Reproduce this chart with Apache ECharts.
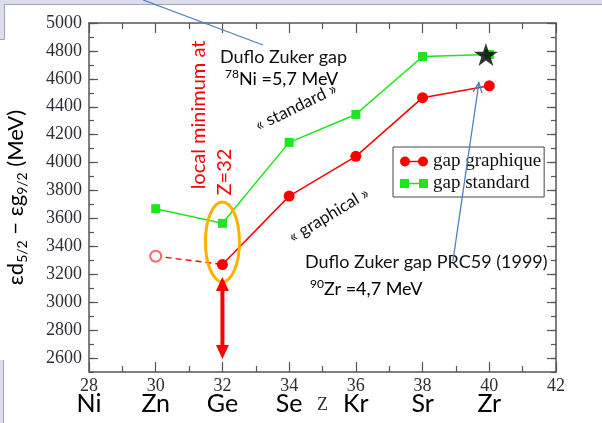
<!DOCTYPE html>
<html>
<head>
<meta charset="utf-8">
<script src="https://cdn.jsdelivr.net/npm/echarts@6/dist/echarts.min.js"></script>
<style>
  html, body { margin: 0; padding: 0; background: #fff; }
  #chart { width: 602px; height: 423px; }
</style>
</head>
<body>
<div id="chart"></div>
<script>
// Proton number Z of the isotones and the d5/2 - g9/2 gap (keV)
const protonNumbers = [30, 32, 34, 36, 38, 40];
const gapStandard   = [3670, 3565, 4145, 4345, 4760, 4775];
const gapGraphique  = [3330, 3270, 3760, 4045, 4465, 4550]; // Z=30 value is extrapolated
const dufloZukerZr  = [39.9, 4775];

// Axis ticks and element symbols under the Z axis
const xTickValues  = [28, 30, 32, 34, 36, 38, 40, 42];
const elementNames = ['Ni', 'Zn', 'Ge', 'Se', 'Kr', 'Sr', 'Zr', ''];
const yTickValues  = [2600, 2800, 3000, 3200, 3400, 3600, 3800, 4000, 4200, 4400, 4600, 4800, 5000];

const SERIF = 'Liberation Serif';
const SANS = 'Lato';
const AXIS_COLOR = '#555';
const LABEL_COLOR = '#2e2e38';
const RED = '#ff0000';
const GREEN = '#1ee61e';
const BLUE = '#4f81bd';

const STAR = 'path://M50,0 L61.2,34.5 L97.6,34.5 L68.2,55.9 L79.4,90.5 L50,69.1 L20.6,90.5 L31.8,55.9 L2.4,34.5 L38.8,34.5 Z';
const ICON_RED = 'path://M5,0A5,5 0 1 1 5,10A5,5 0 1 1 5,0Z M23,0A5,5 0 1 1 23,10A5,5 0 1 1 23,0Z M5,4.2H23V5.8H5Z';
const ICON_GREEN = 'path://M0,0.5H9V9.5H0Z M19,0.5H28V9.5H19Z M9,4.2H19V5.8H9Z';

const chart = echarts.init(document.getElementById('chart'), null, { renderer: 'canvas' });

function xAxisBase(position, showLabel) {
  return {
    type: 'value', position: position, min: 28, max: 42, interval: 2,
    axisLine: { show: true, onZero: false, lineStyle: { color: AXIS_COLOR, width: 1.5 } },
    axisTick: { show: true, inside: true, length: 10, lineStyle: { color: AXIS_COLOR, width: 1.2 } },
    minorTick: { show: true, splitNumber: 2, length: 6, lineStyle: { color: AXIS_COLOR, width: 1.2 } },
    splitLine: { show: false },
    minorSplitLine: { show: false },
    axisLabel: showLabel ? {
      showMinLabel: true, showMaxLabel: true, margin: 6,
      fontFamily: SERIF, fontSize: 18, color: LABEL_COLOR,
      formatter: function (v) {
        const i = xTickValues.indexOf(v);
        const el = i >= 0 ? elementNames[i] : '';
        return '{n|' + v + '}\n{e|' + (el || ' ') + '}';
      },
      rich: {
        n: { fontFamily: SERIF, fontSize: 18, color: LABEL_COLOR, lineHeight: 17 },
        e: { fontFamily: SANS, fontSize: 25, color: '#000', lineHeight: 17 }
      }
    } : { show: false }
  };
}

function yAxisMinor(position) {
  return {
    type: 'value', position: position, min: 2500, max: 5000, interval: 100,
    axisLine: { show: true, onZero: false, lineStyle: { color: AXIS_COLOR, width: 1.5 } },
    axisTick: { show: true, inside: true, length: 5, lineStyle: { color: AXIS_COLOR, width: 1.2 } },
    axisLabel: { show: false },
    splitLine: { show: false }
  };
}

function yAxisMajor(position, showLabel) {
  return {
    type: 'value', position: position, min: 2500, max: 5000, interval: 100,
    axisLine: { show: false },
    axisTick: { show: true, inside: true, length: 9, customValues: yTickValues, lineStyle: { color: AXIS_COLOR, width: 1.2 } },
    axisLabel: showLabel ? {
      customValues: yTickValues, margin: 7,
      fontFamily: SERIF, fontSize: 18, color: LABEL_COLOR,
      formatter: function (v) { return String(v); }
    } : { show: false },
    splitLine: { show: false },
    name: showLabel ? '{t|εd}{s|5/2}{t| − εg}{s|9/2}{t| (MeV)}' : '',
    nameLocation: 'middle', nameRotate: 90, nameGap: 60, nameMoveOverlap: false,
    nameTextStyle: {
      fontFamily: SANS,
      rich: {
        t: { fontFamily: SANS, fontSize: 22, color: '#000', lineHeight: 26, verticalAlign: 'middle' },
        s: { fontFamily: SANS, fontSize: 14, color: '#000', lineHeight: 13, verticalAlign: 'bottom' }
      }
    }
  };
}

const option = {
  animation: false,
  backgroundColor: '#fff',
  grid: { left: 89, right: 46, top: 23, bottom: 51, containLabel: false, outerBoundsMode: 'none' },
  xAxis: [
    Object.assign(xAxisBase('bottom', true), {
      name: 'Z', nameLocation: 'middle', nameGap: 24, nameMoveOverlap: false,
      nameTextStyle: { fontFamily: SERIF, fontSize: 18, color: LABEL_COLOR }
    }),
    xAxisBase('top', false)
  ],
  yAxis: [
    yAxisMinor('left'),
    yAxisMajor('left', true),
    yAxisMinor('right'),
    yAxisMajor('right', false)
  ],
  legend: {
    orient: 'vertical', left: 393, top: 147,
    padding: [5, 3, 4, 7], itemGap: 3,
    itemWidth: 28, itemHeight: 10,
    borderColor: '#444', borderWidth: 1, backgroundColor: '#fff',
    textStyle: { fontFamily: SERIF, fontSize: 19, color: '#111' },
    data: [
      { name: 'gap graphique', icon: ICON_RED },
      { name: 'gap standard', icon: ICON_GREEN }
    ]
  },
  series: [
    {
      name: 'gap standard', type: 'line',
      data: protonNumbers.map((z, i) => [z, gapStandard[i]]),
      symbol: 'rect', symbolSize: 9,
      itemStyle: { color: GREEN },
      lineStyle: { color: GREEN, width: 1.5 },
      z: 3
    },
    {
      name: 'gap graphique', type: 'line',
      data: protonNumbers.slice(1).map((z, i) => [z, gapGraphique[i + 1]]),
      symbol: 'circle', symbolSize: 11,
      itemStyle: { color: RED },
      lineStyle: { color: RED, width: 1.5 },
      z: 4
    },
    {
      name: 'extrapolated', type: 'line',
      data: [
        { value: [protonNumbers[0], gapGraphique[0]], symbol: 'emptyCircle', symbolSize: 11 },
        { value: [protonNumbers[1], gapGraphique[1]], symbol: 'none' }
      ],
      itemStyle: { color: '#ff6b6b', borderWidth: 1 },
      lineStyle: { color: RED, width: 1.5, type: [6, 4] },
      z: 2
    },
    {
      name: 'Duflo Zuker', type: 'scatter',
      data: [dufloZukerZr],
      symbol: STAR, symbolSize: [24, 23],
      itemStyle: { color: '#000' },
      z: 6
    }
  ]
};

chart.setOption(option);

// Annotations anchored to data positions
const px = (x, y) => chart.convertToPixel({ xAxisIndex: 0, yAxisIndex: 0 }, [x, y]);

const ellipseC = px(32, 3432);
const ellipseTop = px(32, 3718);
const arrowTop = px(32, 3180);
const arrowBottom = px(32, 2594);
const blueTip = px(39.69, 4573);
const blueTail = px(38.91, 3294);

const head = 14, halfW = 6.5;
function arrowHeadPoints(tip, dir) {
  // dir: +1 points up, -1 points down
  return [
    [tip[0], tip[1]],
    [tip[0] - halfW, tip[1] + dir * head],
    [tip[0] + halfW, tip[1] + dir * head]
  ];
}

const ang = Math.atan2(blueTip[1] - blueTail[1], blueTip[0] - blueTail[0]);
const bl = 11, spread = 0.42;
const barb1 = [blueTip[0] - bl * Math.cos(ang - spread), blueTip[1] - bl * Math.sin(ang - spread)];
const barb2 = [blueTip[0] - bl * Math.cos(ang + spread), blueTip[1] - bl * Math.sin(ang + spread)];

const supRich = {
  m: { fontFamily: SANS, fontSize: 18, color: '#111', lineHeight: 22 },
  sup: { fontFamily: SANS, fontSize: 12, color: '#111', lineHeight: 12, verticalAlign: 'top' }
};

chart.setOption({
  graphic: [
    // slide frame strips
    { type: 'rect', shape: { x: 0, y: 0, width: 602, height: 4 }, style: { fill: '#dcdeee' }, silent: true },
    { type: 'line', shape: { x1: 0, y1: 4.5, x2: 602, y2: 4.5 }, style: { stroke: '#a4a4b0', lineWidth: 1 }, silent: true },
    { type: 'rect', shape: { x: 0, y: 0, width: 4, height: 39 }, style: { fill: '#dcdeee' }, silent: true },
    { type: 'polyline', shape: { points: [[4.5, 4.5], [4.5, 39.5], [0, 39.5]] }, style: { stroke: '#a4a4b0', lineWidth: 1, fill: null }, silent: true },
    { type: 'rect', shape: { x: 0, y: 360, width: 3, height: 63 }, style: { fill: '#dcdeee' }, silent: true },
    { type: 'line', shape: { x1: 3.5, y1: 360, x2: 3.5, y2: 423 }, style: { stroke: '#a4a4b0', lineWidth: 1 }, silent: true },

    // local minimum highlight
    { type: 'ellipse', shape: { cx: ellipseC[0], cy: ellipseC[1], rx: 17, ry: ellipseC[1] - ellipseTop[1] },
      style: { stroke: '#ffb000', lineWidth: 3, fill: null }, z: 10 },
    { type: 'line', shape: { x1: arrowTop[0], y1: arrowTop[1] + head - 1, x2: arrowBottom[0], y2: arrowBottom[1] - head + 1 },
      style: { stroke: RED, lineWidth: 4 }, z: 10 },
    { type: 'polygon', shape: { points: arrowHeadPoints(arrowTop, 1) }, style: { fill: RED }, z: 10 },
    { type: 'polygon', shape: { points: arrowHeadPoints(arrowBottom, -1) }, style: { fill: RED }, z: 10 },

    { type: 'text', x: 199, y: 115, rotation: Math.PI / 2,
      style: { text: 'local minimum at', fontFamily: SANS, fontSize: 20, fill: RED, align: 'center', verticalAlign: 'middle' }, z: 10 },
    { type: 'text', x: 225, y: 172, rotation: Math.PI / 2,
      style: { text: 'Z=32', fontFamily: SANS, fontSize: 20, fill: RED, align: 'center', verticalAlign: 'middle' }, z: 10 },

    // Duflo-Zuker callouts
    { type: 'line', shape: { x1: 143, y1: 0, x2: 263, y2: 45 }, style: { stroke: BLUE, lineWidth: 1.3 }, z: 10 },
    { type: 'text', x: 220, y: 57,
      style: { text: 'Duflo Zuker gap', fontFamily: SANS, fontSize: 18, fill: '#111', align: 'left', verticalAlign: 'middle' }, z: 10 },
    { type: 'text', x: 225, y: 79,
      style: { text: '{sup|78}{m|Ni =5,7 MeV}', rich: supRich, align: 'left', verticalAlign: 'middle' }, z: 10 },

    { type: 'line', shape: { x1: blueTail[0], y1: blueTail[1], x2: blueTip[0], y2: blueTip[1] }, style: { stroke: BLUE, lineWidth: 1.3 }, z: 20 },
    { type: 'polyline', shape: { points: [barb1, blueTip, barb2] }, style: { stroke: BLUE, lineWidth: 1.3, fill: null }, z: 20 },
    { type: 'text', x: 305, y: 262,
      style: { text: 'Duflo Zuker gap PRC59 (1999)', fontFamily: SANS, fontSize: 18, fill: '#111', align: 'left', verticalAlign: 'middle' }, z: 10 },
    { type: 'text', x: 310, y: 289,
      style: { text: '{sup|90}{m|Zr =4,7 MeV}', rich: supRich, align: 'left', verticalAlign: 'middle' }, z: 10 },

    // curve tags
    { type: 'text', x: 296, y: 107, rotation: 26 * Math.PI / 180,
      style: { text: '« standard »', fontFamily: SANS, fontSize: 17, fill: '#111', align: 'center', verticalAlign: 'middle' }, z: 10 },
    { type: 'text', x: 329, y: 215, rotation: 31 * Math.PI / 180,
      style: { text: '« graphical »', fontFamily: SANS, fontSize: 17, fill: '#111', align: 'center', verticalAlign: 'middle' }, z: 10 }
  ]
});
</script>
</body>
</html>
